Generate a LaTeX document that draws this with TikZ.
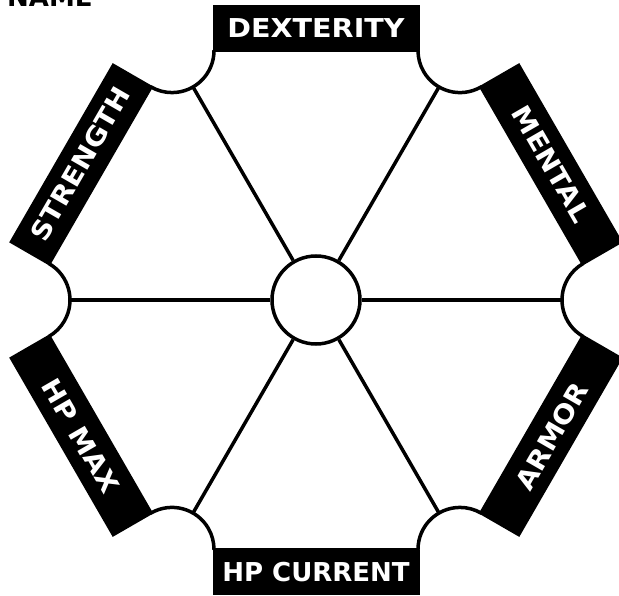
\documentclass[tikz,border=0pt]{standalone}
\usepackage{fontspec}
\setmainfont{DejaVu Sans}
\newfontfamily\labfont[FakeStretch=1.1]{DejaVu Sans Bold}
\newfontfamily\plainlabfont{DejaVu Sans Bold}
\usetikzlibrary{calc}
\begin{document}
\begin{tikzpicture}[x=1pt,y=1pt,
  outline/.style={line width=3.5pt,line cap=round},
  bar/.style={fill=black,text=white,minimum width=207pt,minimum height=45pt,
    inner sep=0pt,font=\labfont\fontsize{26}{26}\selectfont},
  narrowbar/.style={bar,font=\plainlabfont\fontsize{26}{26}\selectfont},
  hub/.style={circle,draw,fill=white,line width=3.5pt,minimum size=88pt,inner sep=0pt},
  title/.style={anchor=base west,inner sep=0pt,font=\bfseries\fontsize{26}{26}\selectfont}
  ]
\useasboundingbox (0,0) rectangle (619,595);
\coordinate (C) at (316,295);
% notched hexagon outline
\foreach \k in {0,...,5}{
  \pgfmathsetmacro\t{60*\k}
  \draw[outline] ($(C)+(\t:288pt)+(\t+240:42pt)$) arc[start angle=\t+240,end angle=\t+120,radius=42pt];
  \draw[outline] ($(C)+(\t:288pt)+(\t+120:42pt)$) -- ($(C)+(\t+60:288pt)+(\t+300:42pt)$);
  \coordinate (s\k) at ($(C)+(\t:246pt)$);
}
% label bars
\node[bar] (dex) at ($(C)+(90:272pt)$) {DEXTERITY};
\node[bar,rotate=-60] (men) at ($(C)+(30:272pt)$) {MENTAL};
\node[bar,rotate=60] (arm) at ($(C)+(-30:272pt)$) {ARMOR};
\node[narrowbar] (hpc) at ($(C)+(-90:272pt)$) {HP CURRENT};
\node[bar,rotate=-60] (hpm) at ($(C)+(-150:272pt)$) {HP MAX};
\node[bar,rotate=60] (str) at ($(C)+(150:272pt)$) {STRENGTH};
% hub and spokes
\node[hub] (ctr) at (C) {};
\foreach \k in {0,...,5}{
  \draw[outline,line cap=butt] (ctr) -- (s\k);
}
\node[title] (name) at (7,588) {NAME};
\end{tikzpicture}
\end{document}
